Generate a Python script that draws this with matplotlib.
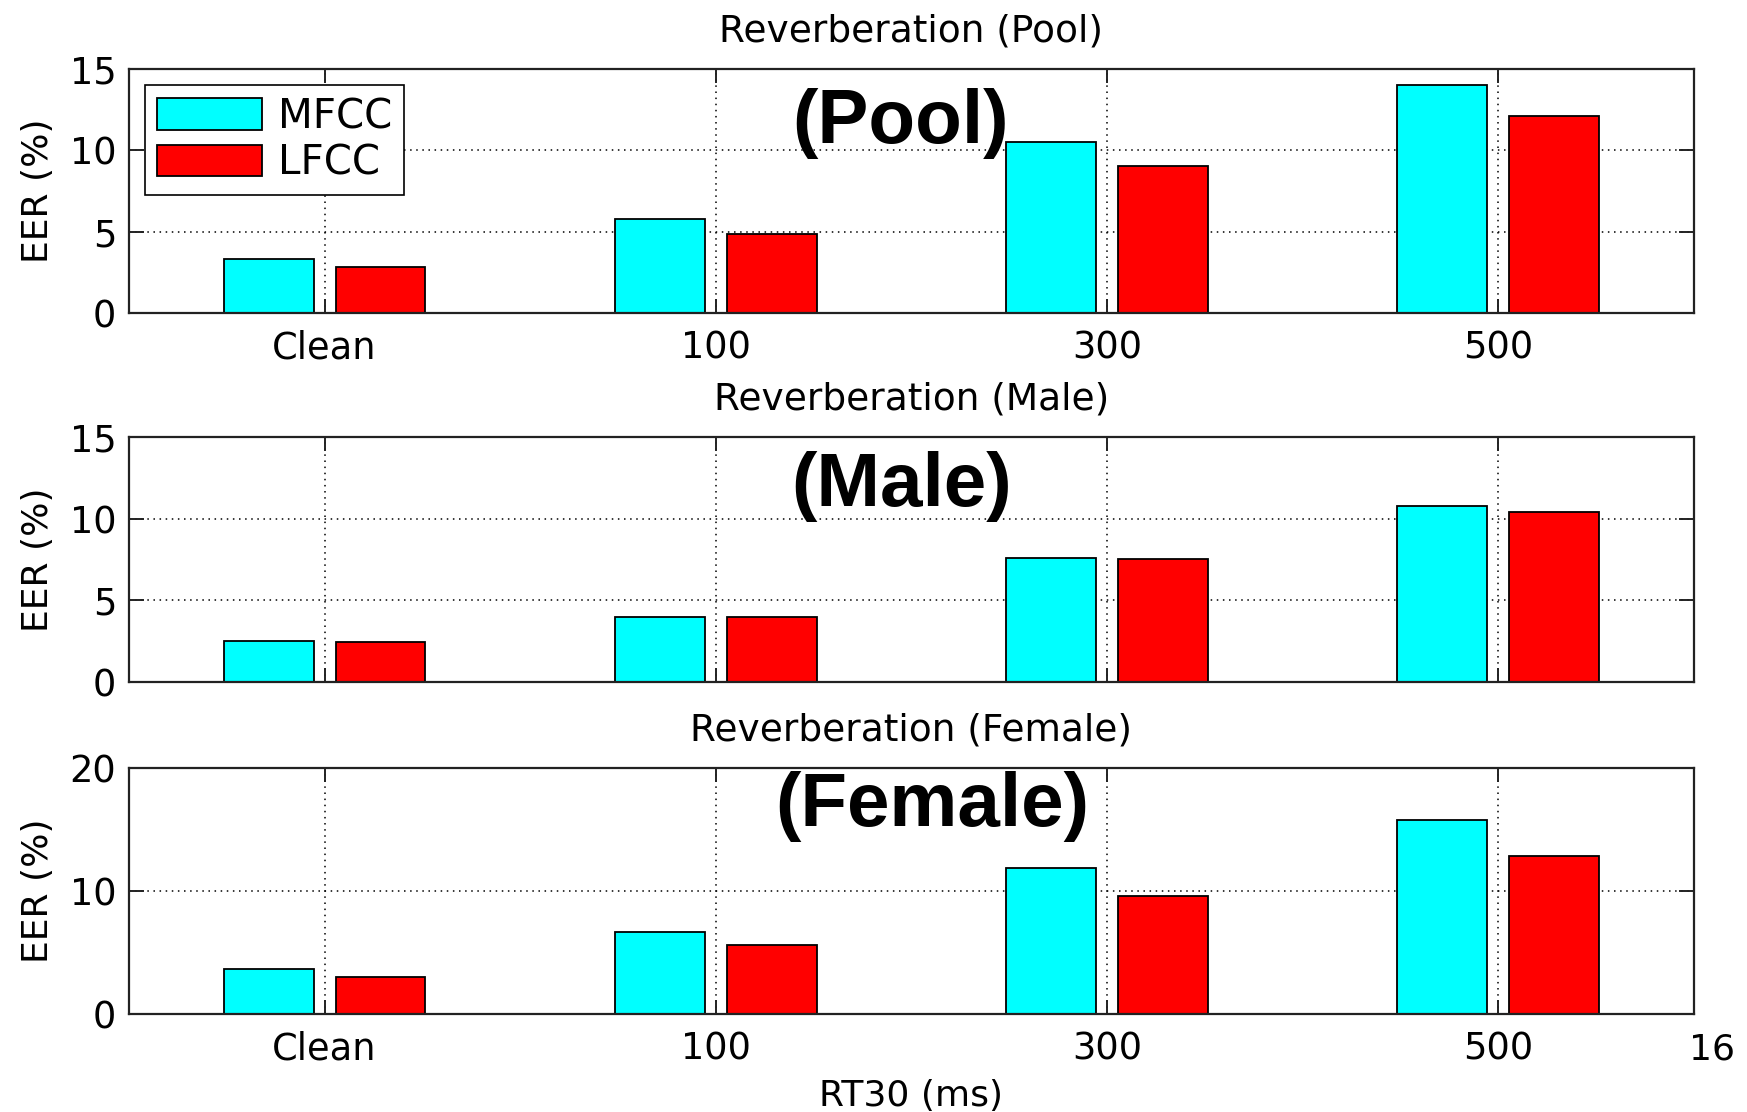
"""EER vs reverberation time for MFCC and LFCC features (Pool / Male / Female)."""
import numpy as np
import matplotlib
matplotlib.use("Agg")
import matplotlib.pyplot as plt

categories = ["Clean", "100", "300", "500"]
series_names = ["MFCC", "LFCC"]

pool_mfcc = [3.35, 5.75, 10.5, 14.0]
pool_lfcc = [2.8, 4.85, 9.05, 12.1]

male_mfcc = [2.5, 4.0, 7.6, 10.75]
male_lfcc = [2.45, 3.95, 7.55, 10.4]

female_mfcc = [3.7, 6.7, 11.85, 15.75]
female_lfcc = [3.0, 5.6, 9.6, 12.85]

panel_titles = ["Reverberation (Pool)", "Reverberation (Male)", "Reverberation (Female)"]
panel_tags = ["(Pool)", "(Male)", "(Female)"]
panel_yticks = [[0, 5, 10, 15], [0, 5, 10, 15], [0, 10, 20]]

plt.rcParams["font.family"] = ["DejaVu Sans"]

fig = plt.figure(figsize=(17.47, 11.12), dpi=100)

# axes boxes in figure fractions (left, bottom, width, height)
boxes = [
    (0.0738, 0.7185, 0.8958, 0.2195),
    (0.0738, 0.3867, 0.8958, 0.2203),
    (0.0738, 0.0881, 0.8958, 0.2212),
]
tag_pos = [(0.493, 0.775), (0.494, 0.80), (0.513, 0.842)]

data = [(pool_mfcc, pool_lfcc), (male_mfcc, male_lfcc), (female_mfcc, female_lfcc)]
x = np.arange(1, len(categories) + 1)
width = 0.23
offset = 0.143

for i, (box, (mfcc, lfcc)) in enumerate(zip(boxes, data)):
    ax = fig.add_axes(box)
    ax.bar(x - offset, mfcc, width, color="#00ffff", edgecolor="black",
           linewidth=1.3, label=series_names[0], zorder=2)
    ax.bar(x + offset, lfcc, width, color="#ff0000", edgecolor="black",
           linewidth=1.3, label=series_names[1], zorder=2)

    ax.set_xlim(0.5, 4.5)
    yt = panel_yticks[i]
    ax.set_ylim(yt[0], yt[-1])
    ax.set_yticks(yt)
    ax.set_xticks(x)
    if i == 1:
        ax.set_xticklabels([])
    else:
        ax.set_xticklabels(categories)

    ax.set_axisbelow(True)
    ax.grid(True, color="black", linestyle=(0, (1, 3)), linewidth=1.1)
    ax.tick_params(axis="both", direction="in", top=True, right=True,
                   labelsize=26.5, width=1.4, color="#222222")
    ax.tick_params(axis="x", length=10, pad=12)
    ax.tick_params(axis="y", length=11, pad=9)
    for sp in ax.spines.values():
        sp.set_linewidth(1.6)
        sp.set_color("#222222")

    ax.set_title(panel_titles[i], fontsize=27, pad=20)
    ax.set_ylabel("EER (%)", fontsize=26)
    ax.yaxis.set_label_coords(-0.047, 0.5)

    ax.text(tag_pos[i][0], tag_pos[i][1], panel_tags[i], transform=ax.transAxes,
            ha="center", va="center", fontsize=55, fontweight="bold",
            family=["Liberation Sans", "DejaVu Sans"], zorder=5)

    if i == 0:
        leg = ax.legend(loc="upper left", fontsize=29, fancybox=False,
                        edgecolor="black", framealpha=1, handlelength=2.6,
                        handleheight=0.82, handletextpad=0.4, labelspacing=0.15,
                        borderpad=0.3, borderaxespad=0.4)
        leg.get_frame().set_linewidth(1.2)
    if i == 2:
        ax.set_xlabel("RT30 (ms)", fontsize=26, labelpad=8)

fig.text(0.98, 0.056, "16", fontsize=26, ha="center", va="center")

fig.savefig("out.png", dpi=100)
